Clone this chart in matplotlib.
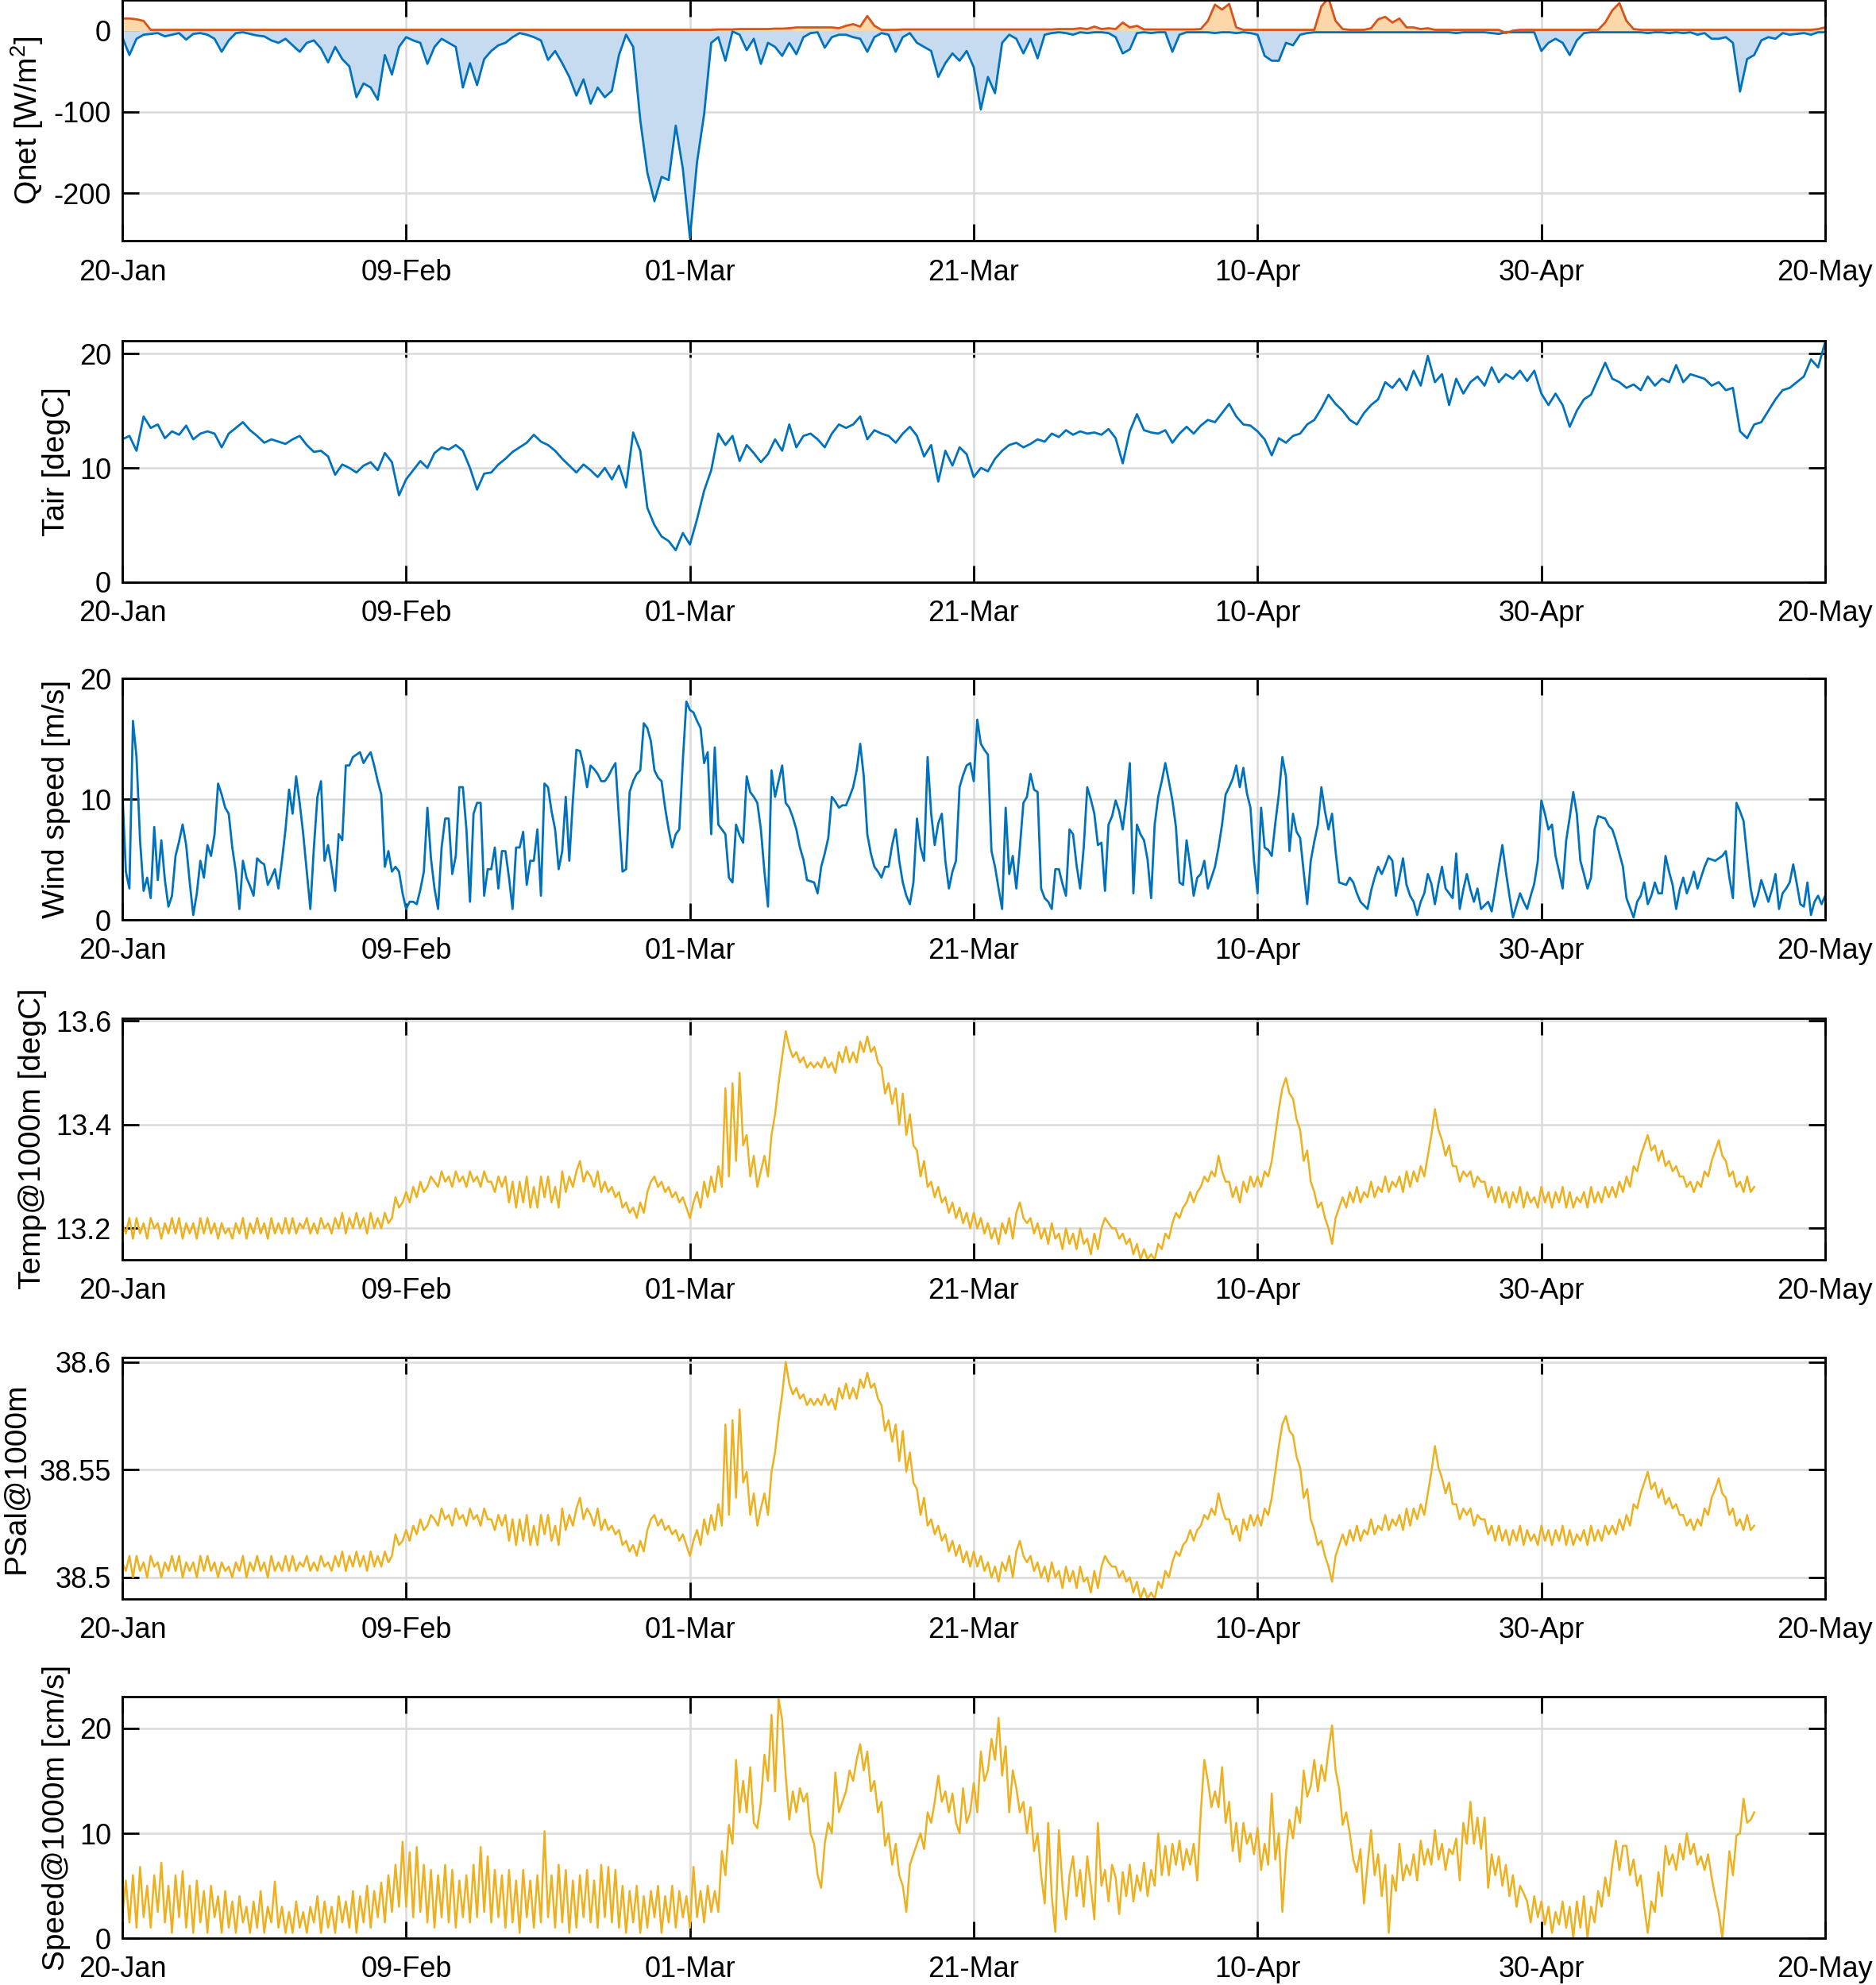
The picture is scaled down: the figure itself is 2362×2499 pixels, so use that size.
import numpy as np
import matplotlib
matplotlib.use('Agg')
import matplotlib.pyplot as plt

plt.rcParams['font.family'] = ['Liberation Sans', 'DejaVu Sans']
plt.rcParams['axes.unicode_minus'] = False

# time axis (days since 20-Jan)
step = 0.5          # Qnet and Tair, every half day
step_fine = 0.25    # wind and mooring series, every 6 hours
tick_days = [0, 20, 40, 60, 80, 100, 120]
tick_labels = ['20-Jan', '09-Feb', '01-Mar', '21-Mar', '10-Apr', '30-Apr', '20-May']

# Qnet [W/m2]: heat loss part (blue) and heat gain part (orange)
qnet_loss = [
    -8, -30, -10, -5, -4, -3, -7, -5, -3, -11,
    -4, -3, -5, -10, -26, -12, -3, -2, -4, -6,
    -7, -12, -15, -10, -18, -26, -15, -12, -22, -39,
    -20, -35, -44, -82, -65, -70, -85, -30, -54, -20,
    -8, -12, -15, -41, -20, -10, -15, -20, -70, -40,
    -67, -35, -25, -18, -15, -8, -3, -5, -8, -12,
    -36, -25, -40, -57, -80, -60, -90, -70, -82, -74,
    -30, -5, -20, -110, -175, -210, -180, -184, -117, -170,
    -255, -162, -103, -15, -8, -37, -1, -5, -24, -10,
    -41, -15, -20, -31, -15, -29, -8, -3, -2, -21,
    -8, -5, -5, -8, -10, -26, -8, -3, -5, -26,
    -8, -3, -15, -20, -25, -57, -40, -28, -37, -25,
    -45, -97, -57, -77, -15, -5, -10, -28, -10, -34,
    -5, -3, -2, -3, -5, -2, -3, -2, -2, -3,
    -8, -28, -23, -3, -2, -3, -2, -2, -26, -5,
    -2, -2, -2, -2, -3, -2, -2, -3, -2, -3,
    -5, -31, -37, -37, -15, -18, -5, -3, -2, -2,
    -2, -2, -2, -2, -2, -2, -2, -2, -2, -2,
    -2, -2, -2, -2, -2, -2, -2, -2, -3, -2,
    -2, -2, -2, -3, -4, -2, -2, -2, -2, -2,
    -25, -15, -10, -15, -30, -12, -3, -2, -2, -2,
    -2, -2, -2, -2, -2, -3, -2, -2, -3, -2,
    -3, -2, -5, -3, -10, -10, -8, -15, -75, -35,
    -30, -12, -8, -10, -3, -5, -4, -3, -5, -2,
    -2]
qnet_gain = [
    15, 15, 14, 12, 1, 1, 1, 1, 1, 1,
    1, 1, 1, 1, 1, 1, 1, 1, 1, 1,
    1, 1, 1, 1, 1, 1, 1, 1, 1, 1,
    1, 1, 1, 1, 1, 1, 1, 1, 1, 1,
    1, 1, 1, 1, 1, 1, 1, 1, 1, 1,
    1, 1, 1, 1, 1, 1, 1, 1, 1, 1,
    1, 1, 1, 1, 1, 1, 1, 1, 1, 1,
    1, 1, 1, 1, 1, 1, 1, 1, 1, 1,
    1, 1, 1, 1, 1.5, 1.5, 1.5, 2, 2, 2,
    2, 2, 2.5, 2.5, 3, 4, 4, 4, 4, 4,
    4, 3, 6, 8, 5, 18, 6, 1, 1, 1,
    1.5, 1.5, 1.5, 1.5, 1.5, 1.5, 1.5, 1.5, 1.5, 1.5,
    1.5, 1.5, 1.5, 1.5, 1.5, 1.5, 1.5, 1.5, 1.5, 1.5,
    1.5, 1.5, 2, 2, 2, 3, 2, 5, 2, 3,
    2, 10, 4, 6, 1.5, 1.5, 1.5, 1.5, 1.5, 1.5,
    1.5, 1.5, 2, 12, 32, 26, 33, 4, 1, 1,
    1, 1, 1, 1, 1, 1, 1, 1, 1, 30,
    40, 12, 2, 1, 1, 1, 3, 14, 17, 10,
    15, 4, 4, 2, 3, 1, 1, 1, 1, 1,
    1, 1, 1, 1, 1, -3, 0, 1, 1, 1,
    1, 1, 1, 1, 1, 1, 1, 1, 1, 10,
    25, 34, 12, 2, 1, 1, 1, 1, 1, 1,
    1, 1, 1, 1, 1, 1, 1, 1, 1, 1,
    1, 1, 1, 1, 1, 1, 1, 1, 1, 2,
    4]

# air temperature [degC]
tair = [
    12.5, 12.8, 11.5, 14.5, 13.5, 13.8, 12.6, 13.2, 12.9, 13.7,
    12.5, 13.0, 13.2, 13.0, 11.8, 13.0, 13.5, 14.0, 13.3, 12.8,
    12.2, 12.5, 12.3, 12.1, 12.5, 12.8, 12.0, 11.4, 11.5, 11.0,
    9.4, 10.3, 10.0, 9.6, 10.2, 10.5, 9.8, 11.3, 10.5, 7.6,
    9.0, 9.8, 10.6, 10.0, 11.3, 11.8, 11.6, 12.0, 11.5, 10.0,
    8.1, 9.5, 9.6, 10.3, 10.8, 11.4, 11.8, 12.2, 12.9, 12.3,
    12.0, 11.5, 10.8, 10.2, 9.6, 10.3, 9.8, 9.2, 10.0, 9.0,
    10.2, 8.3, 13.1, 11.5, 6.5, 5.0, 4.0, 3.6, 2.8, 4.3,
    3.3, 5.5, 8.0, 9.8, 13.0, 12.0, 12.8, 10.6, 12.0, 11.3,
    10.5, 11.2, 12.5, 11.5, 13.8, 11.8, 12.8, 13.0, 12.5, 11.8,
    13.0, 13.8, 13.5, 13.8, 14.5, 12.5, 13.3, 13.0, 12.8, 12.2,
    13.0, 13.6, 12.8, 11.0, 12.0, 8.8, 11.5, 10.2, 11.8, 11.2,
    9.2, 10.0, 9.7, 10.8, 11.5, 12.0, 12.2, 11.8, 12.1, 12.5,
    12.3, 13.0, 12.7, 13.3, 12.9, 13.2, 13.0, 13.1, 12.9, 13.4,
    12.6, 10.4, 13.2, 14.7, 13.3, 13.1, 13.0, 13.3, 12.2, 13.0,
    13.6, 13.0, 13.7, 14.2, 14.0, 14.8, 15.6, 14.5, 13.8, 13.7,
    13.2, 12.5, 11.1, 12.6, 12.2, 12.8, 13.0, 13.8, 14.2, 15.2,
    16.4, 15.6, 15.0, 14.2, 13.8, 14.8, 15.5, 16.0, 17.5, 17.0,
    17.8, 16.8, 18.5, 17.2, 19.8, 17.5, 18.2, 15.5, 17.8, 16.5,
    17.5, 18.0, 17.2, 18.8, 17.5, 18.2, 17.8, 18.5, 17.6, 18.5,
    16.5, 15.5, 16.5, 15.5, 13.6, 15.0, 16.0, 16.4, 17.8, 19.2,
    17.8, 17.5, 17.0, 17.3, 16.8, 18.0, 17.2, 17.8, 17.5, 19.0,
    17.5, 18.2, 18.0, 17.8, 17.2, 17.5, 16.8, 17.0, 13.2, 12.6,
    13.8, 14.0, 15.0, 16.0, 16.8, 17.0, 17.5, 18.0, 19.5, 18.8,
    21.0]

# wind speed [m/s] (one row = one day, four values per day)
wind = [
    10.8, 4.0, 2.6, 16.5,  13.5, 6.6, 2.4, 3.5,  1.8, 7.7, 3.3, 6.6,  3.3, 1.1, 2.0, 5.3,
    6.5, 7.9, 6.2, 3.1,  0.4, 2.2, 4.9, 3.5,  6.2, 5.3, 7.1, 11.3,  10.4, 9.3, 8.8, 6.0,
    4.0, 0.9, 4.9, 3.5,  2.8, 2.0, 5.1, 4.8,  4.6, 2.9, 3.5, 4.2,  2.6, 4.9, 7.5, 10.8,
    8.8, 11.9, 9.7, 7.1,  4.0, 0.9, 6.0, 10.2,  11.5, 4.9, 6.2, 4.4,  2.4, 7.1, 6.6, 12.8,
    12.8, 13.5, 13.7, 13.9,  13.0, 13.5, 13.9, 12.8,  11.5, 10.4, 4.4, 5.7,  4.0, 4.4, 4.0, 2.2,
    0.9, 1.5, 1.5, 1.3,  2.5, 4.0, 9.3, 5.1,  2.6, 0.9, 6.0, 8.4,  8.4, 3.8, 5.3, 11.0,
    11.0, 7.5, 1.5, 8.8,  9.7, 9.7, 2.0, 4.2,  4.2, 6.0, 2.6, 5.7,  5.7, 3.5, 0.9, 6.0,
    6.0, 7.3, 2.9, 4.9,  4.9, 7.5, 2.0, 11.3,  11.0, 9.0, 7.5, 4.2,  5.7, 10.2, 4.9, 9.9,
    14.1, 14.0, 12.8, 11.0,  12.8, 12.5, 12.1, 11.5,  11.5, 11.9, 12.5, 13.0,  8.4, 4.0, 4.2, 10.6,
    11.5, 12.1, 12.4, 16.3,  15.9, 14.8, 12.4, 11.8,  11.5, 9.3, 7.5, 6.0,  7.1, 7.5, 13.2, 18.1,
    17.4, 17.2, 16.5, 15.9,  13.0, 13.9, 7.1, 14.3,  7.9, 7.5, 7.1, 3.5,  3.1, 7.9, 7.0, 6.4,
    11.9, 10.6, 10.2, 9.7,  7.5, 4.0, 1.1, 12.4,  10.2, 11.5, 12.8, 9.7,  9.3, 8.5, 7.5, 6.0,
    5.0, 3.3, 3.2, 3.1,  2.2, 4.4, 5.5, 6.8,  10.2, 9.8, 9.3, 9.5,  9.5, 10.2, 11.0, 12.4,
    14.6, 11.9, 7.1, 5.5,  4.4, 4.0, 3.5, 4.4,  4.4, 6.2, 7.5, 4.9,  3.1, 2.0, 1.3, 3.1,
    8.4, 6.0, 4.9, 13.5,  8.8, 6.2, 8.0, 8.8,  4.9, 2.6, 4.0, 4.9,  11.0, 12.0, 12.8, 13.0,
    11.5, 16.6, 14.6, 14.1,  13.7, 5.7, 4.4, 2.6,  0.9, 9.3, 3.8, 5.3,  2.6, 6.0, 9.7, 10.2,
    12.1, 10.8, 10.6, 2.6,  1.8, 1.5, 0.9, 4.2,  4.2, 3.0, 2.0, 7.5,  7.1, 4.5, 2.6, 6.0,
    11.0, 10.0, 8.8, 6.2,  6.4, 2.4, 7.9, 8.6,  9.9, 9.0, 7.5, 9.9,  13.0, 2.2, 7.9, 7.1,
    6.6, 5.0, 1.8, 7.9,  10.2, 11.5, 13.0, 11.5,  9.9, 7.7, 3.1, 2.9,  6.6, 4.5, 2.0, 3.5,
    3.8, 4.9, 2.6, 3.5,  4.4, 6.0, 7.9, 10.4,  11.0, 11.7, 12.8, 11.0,  12.6, 10.5, 9.3, 4.9,
    2.2, 9.3, 6.0, 5.8,  5.3, 8.0, 10.4, 13.5,  11.9, 5.7, 8.8, 7.3,  6.8, 4.0, 1.3, 4.9,
    6.5, 7.9, 11.0, 9.0,  7.5, 8.8, 5.7, 3.1,  3.0, 2.9, 3.5, 3.1,  2.2, 1.5, 1.2, 0.9,
    2.4, 3.5, 4.4, 3.8,  4.5, 5.3, 4.9, 2.0,  3.5, 5.1, 2.9, 2.0,  1.5, 0.4, 1.5, 2.2,
    3.8, 3.0, 1.3, 3.0,  4.4, 2.6, 2.2, 1.8,  5.5, 0.9, 2.5, 3.8,  2.5, 1.5, 2.6, 0.9,
    1.2, 1.5, 0.7, 2.5,  4.4, 6.2, 4.0, 2.0,  0.2, 1.2, 2.2, 1.5,  0.9, 2.0, 3.0, 4.9,
    9.9, 8.8, 7.5, 7.9,  5.3, 4.0, 2.6, 6.6,  8.5, 10.6, 8.8, 4.9,  3.8, 2.6, 3.5, 7.5,
    8.6, 8.5, 8.4, 7.8,  7.5, 6.6, 5.5, 4.4,  1.8, 1.0, 0.2, 1.5,  2.0, 3.1, 1.3, 2.0,
    3.1, 2.2, 2.2, 5.3,  4.0, 2.9, 0.9, 2.5,  3.5, 2.2, 3.0, 4.0,  2.6, 3.5, 4.4, 5.1,
    5.0, 4.9, 5.1, 5.3,  5.7, 3.5, 1.8, 9.7,  9.0, 8.2, 5.3, 2.6,  1.1, 2.0, 3.3, 2.4,
    1.5, 2.5, 3.8, 0.9,  2.2, 2.6, 3.1, 4.6,  3.0, 1.3, 1.1, 3.1,  0.4, 1.5, 2.0, 1.3,
    2.0]

# mooring at 1000 m: temperature [degC], salinity, current speed [cm/s]
# (one row = one day, four values per day)
temp1000 = [
    13.21, 13.19, 13.22, 13.18,  13.22, 13.19, 13.21, 13.18,  13.22, 13.20, 13.21, 13.18,
    13.21, 13.19, 13.22, 13.19,  13.22, 13.18, 13.21, 13.19,  13.21, 13.18, 13.22, 13.19,
    13.22, 13.19, 13.21, 13.18,  13.21, 13.19, 13.20, 13.18,  13.21, 13.19, 13.22, 13.18,
    13.21, 13.19, 13.22, 13.19,  13.21, 13.18, 13.22, 13.19,  13.21, 13.19, 13.22, 13.19,
    13.22, 13.19, 13.21, 13.20,  13.22, 13.19, 13.21, 13.19,  13.22, 13.20, 13.21, 13.19,
    13.22, 13.20, 13.23, 13.19,  13.22, 13.20, 13.23, 13.20,  13.22, 13.19, 13.23, 13.20,
    13.22, 13.20, 13.23, 13.21,  13.22, 13.26, 13.24, 13.25,  13.27, 13.25, 13.28, 13.26,
    13.29, 13.27, 13.28, 13.30,  13.29, 13.28, 13.31, 13.29,  13.30, 13.28, 13.31, 13.29,
    13.30, 13.28, 13.31, 13.29,  13.30, 13.28, 13.31, 13.29,  13.29, 13.27, 13.30, 13.28,
    13.30, 13.25, 13.29, 13.24,  13.29, 13.25, 13.30, 13.24,  13.28, 13.24, 13.30, 13.26,
    13.30, 13.25, 13.28, 13.24,  13.31, 13.27, 13.30, 13.28,  13.31, 13.33, 13.29, 13.31,
    13.30, 13.28, 13.31, 13.27,  13.29, 13.27, 13.28, 13.26,  13.27, 13.24, 13.25, 13.23,
    13.24, 13.22, 13.25, 13.23,  13.27, 13.29, 13.30, 13.28,  13.29, 13.27, 13.28, 13.26,
    13.27, 13.25, 13.26, 13.24,  13.22, 13.25, 13.27, 13.24,  13.29, 13.26, 13.30, 13.27,
    13.32, 13.28, 13.47, 13.30,  13.48, 13.33, 13.50, 13.36,  13.38, 13.30, 13.34, 13.28,
    13.31, 13.34, 13.30, 13.38,  13.42, 13.48, 13.53, 13.58,  13.55, 13.53, 13.54, 13.52,
    13.53, 13.51, 13.52, 13.51,  13.52, 13.51, 13.53, 13.51,  13.52, 13.50, 13.54, 13.52,
    13.55, 13.52, 13.54, 13.52,  13.56, 13.54, 13.57, 13.54,  13.55, 13.52, 13.51, 13.46,
    13.48, 13.44, 13.47, 13.40,  13.46, 13.38, 13.42, 13.36,  13.35, 13.30, 13.33, 13.28,
    13.29, 13.26, 13.28, 13.25,  13.26, 13.23, 13.25, 13.22,  13.24, 13.21, 13.23, 13.20,
    13.23, 13.20, 13.22, 13.19,  13.21, 13.18, 13.20, 13.17,  13.21, 13.19, 13.22, 13.18,
    13.23, 13.25, 13.22, 13.21,  13.22, 13.19, 13.21, 13.18,  13.20, 13.17, 13.21, 13.18,
    13.19, 13.16, 13.20, 13.17,  13.19, 13.16, 13.20, 13.17,  13.18, 13.15, 13.19, 13.16,
    13.20, 13.22, 13.21, 13.20,  13.20, 13.18, 13.19, 13.17,  13.18, 13.15, 13.17, 13.14,
    13.16, 13.14, 13.15, 13.14,  13.17, 13.16, 13.19, 13.18,  13.21, 13.23, 13.22, 13.24,
    13.25, 13.27, 13.25, 13.27,  13.28, 13.30, 13.29, 13.31,  13.30, 13.34, 13.31, 13.29,
    13.29, 13.26, 13.28, 13.25,  13.29, 13.27, 13.30, 13.28,  13.30, 13.28, 13.31, 13.30,
    13.33, 13.38, 13.43, 13.47,  13.49, 13.46, 13.45, 13.41,  13.39, 13.33, 13.35, 13.29,
    13.27, 13.24, 13.25, 13.22,  13.20, 13.17, 13.22, 13.24,  13.26, 13.24, 13.27, 13.25,
    13.28, 13.25, 13.27, 13.26,  13.29, 13.26, 13.28, 13.27,  13.30, 13.27, 13.29, 13.28,
    13.30, 13.27, 13.31, 13.28,  13.31, 13.29, 13.32, 13.30,  13.34, 13.38, 13.43, 13.39,
    13.37, 13.34, 13.36, 13.32,  13.32, 13.29, 13.31, 13.30,  13.31, 13.28, 13.30, 13.29,
    13.29, 13.26, 13.28, 13.25,  13.28, 13.25, 13.27, 13.24,  13.27, 13.25, 13.28, 13.24,
    13.27, 13.25, 13.26, 13.24,  13.28, 13.25, 13.27, 13.24,  13.27, 13.25, 13.28, 13.24,
    13.27, 13.24, 13.26, 13.25,  13.27, 13.24, 13.28, 13.25,  13.27, 13.25, 13.28, 13.26,
    13.28, 13.26, 13.29, 13.27,  13.30, 13.28, 13.32, 13.31,  13.34, 13.36, 13.38, 13.35,
    13.36, 13.33, 13.35, 13.32,  13.33, 13.31, 13.32, 13.30,  13.30, 13.28, 13.29, 13.27,
    13.29, 13.28, 13.31, 13.30,  13.33, 13.35, 13.37, 13.34,  13.33, 13.30, 13.31, 13.28,
    13.29, 13.27, 13.30, 13.27,
    13.28]
psal1000 = [
    38.507, 38.503, 38.510, 38.500,  38.510, 38.503, 38.507, 38.500,  38.510, 38.505, 38.507, 38.500,
    38.507, 38.503, 38.510, 38.503,  38.510, 38.500, 38.507, 38.503,  38.507, 38.500, 38.510, 38.503,
    38.510, 38.503, 38.507, 38.500,  38.507, 38.503, 38.505, 38.500,  38.507, 38.503, 38.510, 38.500,
    38.507, 38.503, 38.510, 38.503,  38.507, 38.500, 38.510, 38.503,  38.507, 38.503, 38.510, 38.503,
    38.510, 38.503, 38.507, 38.505,  38.510, 38.503, 38.507, 38.503,  38.510, 38.505, 38.507, 38.503,
    38.510, 38.505, 38.512, 38.503,  38.510, 38.505, 38.512, 38.505,  38.510, 38.503, 38.512, 38.505,
    38.510, 38.505, 38.512, 38.507,  38.510, 38.520, 38.515, 38.517,  38.522, 38.517, 38.524, 38.520,
    38.527, 38.522, 38.524, 38.529,  38.527, 38.524, 38.532, 38.527,  38.529, 38.524, 38.532, 38.527,
    38.529, 38.524, 38.532, 38.527,  38.529, 38.524, 38.532, 38.527,  38.527, 38.522, 38.529, 38.524,
    38.529, 38.517, 38.527, 38.515,  38.527, 38.517, 38.529, 38.515,  38.524, 38.515, 38.529, 38.520,
    38.529, 38.517, 38.524, 38.515,  38.532, 38.522, 38.529, 38.524,  38.532, 38.537, 38.527, 38.532,
    38.529, 38.524, 38.532, 38.522,  38.527, 38.522, 38.524, 38.520,  38.522, 38.515, 38.517, 38.512,
    38.515, 38.510, 38.517, 38.512,  38.522, 38.527, 38.529, 38.524,  38.527, 38.522, 38.524, 38.520,
    38.522, 38.517, 38.520, 38.515,  38.510, 38.517, 38.522, 38.515,  38.527, 38.520, 38.529, 38.522,
    38.534, 38.524, 38.571, 38.529,  38.573, 38.537, 38.578, 38.544,  38.549, 38.529, 38.539, 38.524,
    38.532, 38.539, 38.529, 38.549,  38.558, 38.573, 38.585, 38.600,  38.590, 38.585, 38.588, 38.583,
    38.585, 38.580, 38.583, 38.580,  38.583, 38.580, 38.585, 38.580,  38.583, 38.578, 38.588, 38.583,
    38.590, 38.583, 38.588, 38.583,  38.592, 38.588, 38.595, 38.588,  38.590, 38.583, 38.580, 38.568,
    38.573, 38.563, 38.571, 38.554,  38.568, 38.549, 38.558, 38.544,  38.541, 38.529, 38.537, 38.524,
    38.527, 38.520, 38.524, 38.517,  38.520, 38.512, 38.517, 38.510,  38.515, 38.507, 38.512, 38.505,
    38.512, 38.505, 38.510, 38.503,  38.507, 38.500, 38.505, 38.498,  38.507, 38.503, 38.510, 38.500,
    38.512, 38.517, 38.510, 38.507,  38.510, 38.503, 38.507, 38.500,  38.505, 38.498, 38.507, 38.500,
    38.503, 38.495, 38.505, 38.498,  38.503, 38.495, 38.505, 38.498,  38.500, 38.493, 38.503, 38.495,
    38.505, 38.510, 38.507, 38.505,  38.505, 38.500, 38.503, 38.498,  38.500, 38.493, 38.498, 38.490,
    38.495, 38.490, 38.493, 38.490,  38.498, 38.495, 38.503, 38.500,  38.507, 38.512, 38.510, 38.515,
    38.517, 38.522, 38.517, 38.522,  38.524, 38.529, 38.527, 38.532,  38.529, 38.539, 38.532, 38.527,
    38.527, 38.520, 38.524, 38.517,  38.527, 38.522, 38.529, 38.524,  38.529, 38.524, 38.532, 38.529,
    38.537, 38.549, 38.561, 38.571,  38.575, 38.568, 38.566, 38.556,  38.551, 38.537, 38.541, 38.527,
    38.522, 38.515, 38.517, 38.510,  38.505, 38.498, 38.510, 38.515,  38.520, 38.515, 38.522, 38.517,
    38.524, 38.517, 38.522, 38.520,  38.527, 38.520, 38.524, 38.522,  38.529, 38.522, 38.527, 38.524,
    38.529, 38.522, 38.532, 38.524,  38.532, 38.527, 38.534, 38.529,  38.539, 38.549, 38.561, 38.551,
    38.546, 38.539, 38.544, 38.534,  38.534, 38.527, 38.532, 38.529,  38.532, 38.524, 38.529, 38.527,
    38.527, 38.520, 38.524, 38.517,  38.524, 38.517, 38.522, 38.515,  38.522, 38.517, 38.524, 38.515,
    38.522, 38.517, 38.520, 38.515,  38.524, 38.517, 38.522, 38.515,  38.522, 38.517, 38.524, 38.515,
    38.522, 38.515, 38.520, 38.517,  38.522, 38.515, 38.524, 38.517,  38.522, 38.517, 38.524, 38.520,
    38.524, 38.520, 38.527, 38.522,  38.529, 38.524, 38.534, 38.532,  38.539, 38.544, 38.549, 38.541,
    38.544, 38.537, 38.541, 38.534,  38.537, 38.532, 38.534, 38.529,  38.529, 38.524, 38.527, 38.522,
    38.527, 38.524, 38.532, 38.529,  38.537, 38.541, 38.546, 38.539,  38.537, 38.529, 38.532, 38.524,
    38.527, 38.522, 38.529, 38.522,
    38.524]
speed1000 = [
    2, 5.5, 1.5, 6,  1, 6.8, 2, 5,  1, 6, 2.5, 7.2,  1.5, 5, 0.5, 6,
    2, 6.4, 1, 5,  0.5, 5.5, 1.5, 4.5,  0.5, 5, 2, 4,  0.5, 4.5, 1, 3.5,
    0.5, 4, 1.5, 3,  0.5, 3.5, 1, 4.5,  0.5, 3, 1.5, 5.4,  1, 3, 0.5, 2.5,
    0.5, 3.5, 1, 2.5,  0.5, 3, 1.5, 4,  0.5, 3.5, 1, 3,  0.5, 4, 1.5, 3.5,
    1, 4.5, 0.5, 4,  1.5, 5, 1, 4.5,  2, 5.3, 1.5, 6,  2.5, 7, 3, 9.2,
    3, 8.2, 2, 8.7,  2.5, 7, 1.5, 6.5,  1, 6, 2, 7,  1.5, 6.5, 1, 5.5,
    2, 6, 1.5, 7,  2, 8.7, 2.5, 7.8,  1.5, 6.5, 2, 6,  1, 6.5, 1.5, 5.5,
    0.5, 6.5, 2, 5.5,  1, 6, 1.5, 10.2,  2, 6, 1, 7,  1.5, 6.5, 0.5, 5.5,
    1, 6, 2, 6.5,  1.5, 5.5, 1, 7,  2, 6.8, 1.5, 6.5,  1, 5, 0.5, 4.5,
    1.5, 5, 0.5, 4,  1, 4.5, 2, 5,  0.5, 4, 1.5, 5,  1, 4.5, 2, 4,
    1, 6.8, 2, 4.5,  1.5, 5, 2.5, 4.5,  2.5, 8.3, 6, 10.8,  9, 17, 12, 15,
    12, 16.3, 11, 10.5,  13, 17.5, 15, 21.3,  14, 22.8, 20.8, 15.5,  11.3, 14, 12, 14.3,
    13, 13.8, 10, 9,  6, 4.8, 9, 11,  10, 15.8, 12, 13,  14, 16, 15, 17,
    18.5, 16, 17.8, 14,  15, 12, 13, 8.8,  10, 7, 9, 6,  5, 2.5, 7, 8,
    9, 10, 8.5, 12,  11, 13, 15.5, 13,  14, 12, 13.8, 11,  10, 14.3, 11, 12,
    14.8, 12, 17.8, 15,  16, 19, 17, 21,  15.5, 18.3, 12, 16,  14.3, 12, 13, 10,
    12.5, 8.3, 10, 6,  3.3, 11, 4, 0.6,  10.3, 5, 1.8, 6,  7.8, 4, 6.5, 3,
    7.8, 5, 1.8, 11,  5, 6.5, 3.5, 7,  5.8, 2.3, 6.3, 4,  7, 3.5, 6, 4.5,
    7.2, 4, 6.5, 5,  10, 6, 8.8, 6,  9, 7, 9.3, 6.5,  8.5, 7, 9, 5.5,
    12, 17, 15, 12.5,  14, 12.5, 16.3, 11,  13, 8.3, 11, 7.3,  11, 9, 10, 8,
    10.5, 6.5, 9, 7,  13.8, 7.5, 10, 2.5,  8, 11.3, 9.5, 12.5,  11, 16, 13.5, 14.5,
    17, 14, 16.5, 15,  18, 20.3, 16, 14.3,  10.8, 12, 10, 7.5,  6.3, 8.5, 3.3, 7,
    10.3, 6, 8, 4,  7, 0.5, 6, 4.5,  9, 5.5, 7, 6,  8, 5.5, 9.3, 7,
    8.5, 7, 10.3, 7.5,  9, 6.5, 8.5, 8,  9.5, 5.5, 11, 9,  13, 9, 11.5, 8.5,
    11.5, 4.8, 8, 6,  7.8, 5, 7, 4,  6, 3, 5, 4.3,  3.5, 1.5, 4, 2,
    3.5, 1.3, 3, 0.5,  2.5, 1.3, 3.5, 1,  3, 0, 3.5, 1,  4, 0, 3, 1.5,
    4.5, 3, 5.8, 4,  7, 9.3, 6.5, 8.8,  8.8, 6, 7.5, 5,  6, 3, 0.5, 3.5,
    2.5, 6.3, 4, 8.8,  7, 8, 6.5, 9,  7.5, 10, 8, 9,  7, 7.8, 6.5, 8,
    5.8, 4, 2.5, 0,  4, 8.3, 6, 9.8,  10, 13.3, 11, 11.3,
    12]

blue = '#0072BD'
gold = '#EDB120'

fig = plt.figure(figsize=(2362 / 200, 2499 / 200), dpi=200)

left, width, height = 0.0652, 0.9077, 0.1215
bottoms = [0.8786, 0.7067, 0.5366, 0.3655, 0.1945, 0.0236]
axes = [fig.add_axes([left, b, width, height]) for b in bottoms]

# Qnet
t = np.arange(len(qnet_loss)) * step
ax = axes[0]
ax.fill_between(t, qnet_loss, 0, color='#C6DAF0', lw=0)
ax.fill_between(t, qnet_gain, 0, color='#FDD7A8', lw=0)
ax.plot(t, qnet_loss, color=blue, lw=1.0)
ax.plot(t, qnet_gain, color='#D95319', lw=1.0)
ax.set_ylim(-259, 38)
ax.set_yticks([-200, -100, 0])
ax.set_ylabel('Qnet [W/m$\\mathregular{^2}$]')

# Tair
t = np.arange(len(tair)) * step
ax = axes[1]
ax.plot(t, tair, color=blue, lw=1.0)
ax.set_ylim(0, 21.1)
ax.set_yticks([0, 10, 20])
ax.set_ylabel('Tair [degC]')

# Wind speed
t = np.arange(len(wind)) * step_fine
ax = axes[2]
ax.plot(t, wind, color=blue, lw=1.0)
ax.set_ylim(0, 20)
ax.set_yticks([0, 10, 20])
ax.set_ylabel('Wind speed [m/s]')

# Temperature at 1000 m
t = np.arange(len(temp1000)) * step_fine
ax = axes[3]
ax.plot(t, temp1000, color=gold, lw=0.9)
ax.set_ylim(13.14, 13.605)
ax.set_yticks([13.2, 13.4, 13.6])
ax.set_yticklabels(['13.2', '13.4', '13.6'])
ax.set_ylabel('Temp@1000m [degC]')

# Salinity at 1000 m
t = np.arange(len(psal1000)) * step_fine
ax = axes[4]
ax.plot(t, psal1000, color=gold, lw=0.9)
ax.set_ylim(38.49, 38.602)
ax.set_yticks([38.5, 38.55, 38.6])
ax.set_yticklabels(['38.5', '38.55', '38.6'])
ax.set_ylabel('PSal@1000m')

# Current speed at 1000 m
t = np.arange(len(speed1000)) * step_fine
ax = axes[5]
ax.plot(t, speed1000, color=gold, lw=0.9)
ax.set_ylim(0, 23)
ax.set_yticks([0, 10, 20])
ax.set_ylabel('Speed@1000m [cm/s]')

for ax in axes:
    ax.set_xlim(tick_days[0], tick_days[-1])
    ax.set_xticks(tick_days)
    ax.set_xticklabels(tick_labels)
    ax.grid(True, color='#dadada', lw=0.9)
    ax.set_axisbelow(True)
    ax.tick_params(axis='both', direction='in', length=7.5, width=1.0,
                   top=True, right=True, labelsize=13, colors='black')
    ax.tick_params(axis='x', pad=8)
    ax.tick_params(axis='y', pad=5)
    ax.yaxis.label.set_size(14)
    for sp in ax.spines.values():
        sp.set_linewidth(1.0)
        sp.set_color('black')

fig.savefig('out.png', dpi=200)
